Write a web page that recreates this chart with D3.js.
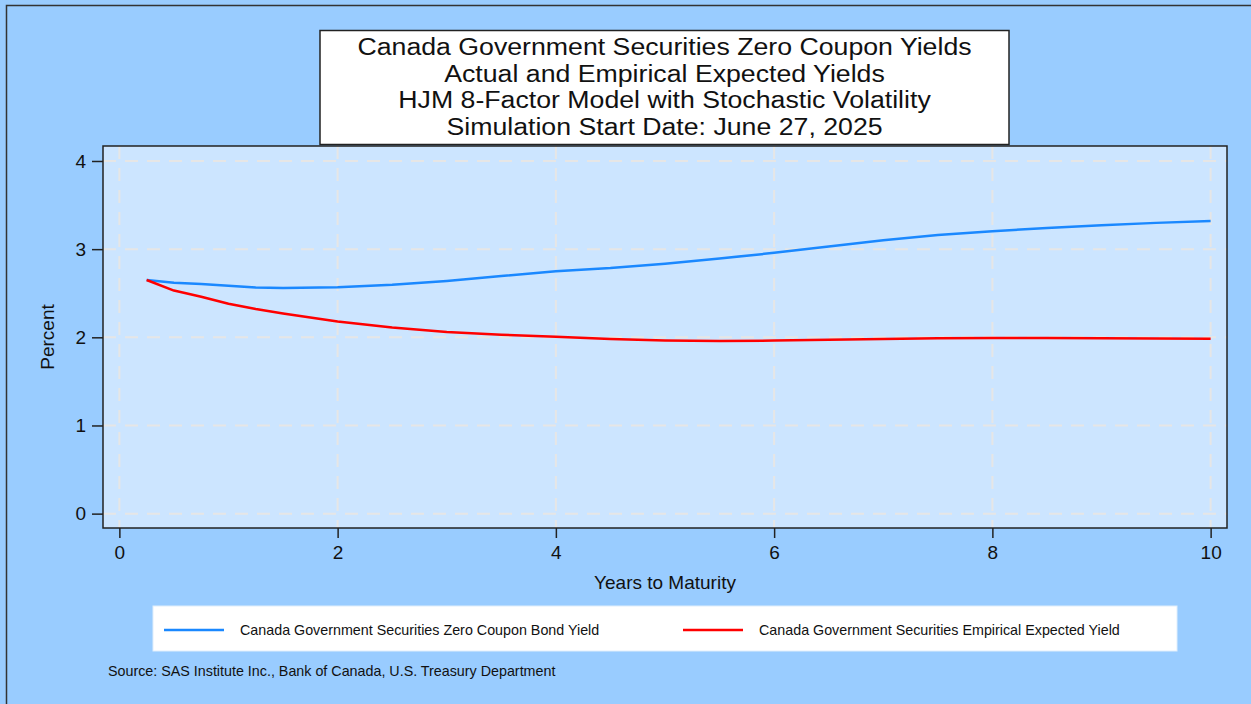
<!DOCTYPE html>
<html>
<head>
<meta charset="utf-8">
<script src="https://cdn.jsdelivr.net/npm/d3@7"></script>
<style>
  body { margin: 0; background: #99ccff; }
  svg { display: block; font-family: "Liberation Sans", Arial, sans-serif; }
</style>
</head>
<body>
<svg id="chart" width="1251" height="704"></svg>
<script>
// maturities in years
var maturities = [0.25, 0.5, 0.75, 1, 1.25, 1.5, 2, 2.5, 3, 3.5, 4, 4.5, 5, 5.5, 6, 6.5, 7, 7.5, 8, 8.5, 9, 9.5, 10];
// actual zero coupon bond yield (percent)
var zeroYield = [2.65, 2.62, 2.605, 2.585, 2.565, 2.558, 2.568, 2.595, 2.64, 2.695, 2.75, 2.785, 2.835, 2.895, 2.958, 3.03, 3.10, 3.16, 3.203, 3.24, 3.27, 3.298, 3.32];
// empirical expected yield (percent)
var expectedYield = [2.65, 2.53, 2.46, 2.38, 2.32, 2.27, 2.18, 2.11, 2.06, 2.03, 2.005, 1.98, 1.965, 1.958, 1.963, 1.972, 1.982, 1.988, 1.991, 1.992, 1.99, 1.986, 1.983];

var xTicks = [0, 2, 4, 6, 8, 10];
var yTicks = [0, 1, 2, 3, 4];

var titleLines = [
  "Canada Government Securities Zero Coupon Yields",
  "Actual and Empirical Expected Yields",
  "HJM 8-Factor Model with Stochastic Volatility",
  "Simulation Start Date: June 27, 2025"
];
var seriesNames = [
  "Canada Government Securities Zero Coupon Bond Yield",
  "Canada Government Securities Empirical Expected Yield"
];
var seriesColors = ["#1a88ff", "#ff0000"];
var sourceNote = "Source: SAS Institute Inc., Bank of Canada, U.S. Treasury Department";

var svg = d3.select("#chart");

// outer frame (left/top edges visible only)
svg.append("rect")
    .attr("x", 6.5).attr("y", 5.5)
    .attr("width", 1260).attr("height", 720)
    .attr("fill", "#99ccff")
    .attr("stroke", "#333")
    .attr("stroke-width", 1.5);

var plot = { left: 103, top: 146, right: 1227, bottom: 528 };

var x = d3.scaleLinear().domain([-0.15, 10.15]).range([plot.left, plot.right]);
var y = d3.scaleLinear().domain([-0.163, 4.17]).range([plot.bottom, plot.top]);

// plot background
svg.append("rect")
    .attr("x", plot.left).attr("y", plot.top)
    .attr("width", plot.right - plot.left).attr("height", plot.bottom - plot.top)
    .attr("fill", "#cce5ff");

// grid
var grid = svg.append("g").attr("stroke", "#e6e6e6").attr("stroke-width", 2).attr("stroke-dasharray", "13,9");
grid.selectAll(".gx").data(xTicks).enter().append("line")
    .attr("x1", function(d) { return x(d); }).attr("x2", function(d) { return x(d); })
    .attr("y1", plot.top).attr("y2", plot.bottom);
grid.selectAll(".gy").data(yTicks).enter().append("line")
    .attr("y1", function(d) { return y(d); }).attr("y2", function(d) { return y(d); })
    .attr("x1", plot.left).attr("x2", plot.right);

// axes
var xAxis = svg.append("g")
    .attr("transform", "translate(0," + plot.bottom + ")")
    .call(d3.axisBottom(x).tickValues(xTicks).tickFormat(d3.format("d"))
      .tickSize(10).tickPadding(8).tickSizeOuter(0));
var yAxis = svg.append("g")
    .attr("transform", "translate(" + plot.left + ",0)")
    .call(d3.axisLeft(y).tickValues(yTicks).tickFormat(d3.format("d"))
      .tickSize(11).tickPadding(6).tickSizeOuter(0));

[xAxis, yAxis].forEach(function(a) {
  a.select(".domain").remove();
  a.selectAll("line").attr("stroke", "#222").attr("stroke-width", 1.5);
  a.selectAll("text").attr("fill", "#111").style("font-size", "19px")
      .style("font-family", "'Liberation Sans', Arial, sans-serif");
});

// plot border on top of grid
svg.append("rect")
    .attr("x", plot.left).attr("y", plot.top)
    .attr("width", plot.right - plot.left).attr("height", plot.bottom - plot.top)
    .attr("fill", "none")
    .attr("stroke", "#222")
    .attr("stroke-width", 1.5);

// series
var line = d3.line()
    .x(function(d) { return x(d[0]); })
    .y(function(d) { return y(d[1]); });

[zeroYield, expectedYield].forEach(function(vals, i) {
  svg.append("path")
      .datum(d3.zip(maturities, vals))
      .attr("d", line)
      .attr("fill", "none")
      .attr("stroke", seriesColors[i])
      .attr("stroke-width", 2.5)
      .attr("stroke-linejoin", "round");
});

// axis titles
svg.append("text")
    .attr("x", (plot.left + plot.right) / 2).attr("y", 589)
    .attr("text-anchor", "middle")
    .style("font-size", "19px")
    .attr("fill", "#111")
    .text("Years to Maturity");

svg.append("text")
    .attr("transform", "translate(54," + ((plot.top + plot.bottom) / 2) + ") rotate(-90)")
    .attr("text-anchor", "middle")
    .style("font-size", "19px")
    .attr("fill", "#111")
    .text("Percent");

// title box
svg.append("rect")
    .attr("x", 320).attr("y", 30.5)
    .attr("width", 689).attr("height", 114)
    .attr("fill", "#fff")
    .attr("stroke", "#222")
    .attr("stroke-width", 1.5);

// title lines, slightly widened like the original renderer
svg.append("g")
    .attr("transform", "translate(664.5,0) scale(1.09,1)")
  .selectAll("text").data(titleLines).enter().append("text")
    .attr("x", 0)
    .attr("y", function(d, i) { return 55.5 + i * 26.5; })
    .attr("text-anchor", "middle")
    .style("font-size", "24.5px")
    .attr("fill", "#111")
    .text(function(d) { return d; });

// legend
svg.append("rect")
    .attr("x", 153).attr("y", 606)
    .attr("width", 1024).attr("height", 45)
    .attr("fill", "#fff")
    .attr("stroke", "#e0eefc")
    .attr("stroke-width", 1);

var legendX = [164, 683];
var leg = svg.append("g").selectAll("g").data(seriesNames).enter().append("g")
    .attr("transform", function(d, i) { return "translate(" + legendX[i] + ",630)"; });
leg.append("line")
    .attr("x1", 0).attr("x2", 60)
    .attr("stroke", function(d, i) { return seriesColors[i]; })
    .attr("stroke-width", 2.5);
leg.append("text")
    .attr("x", 76).attr("y", 5)
    .style("font-size", "14.3px")
    .attr("fill", "#111")
    .text(function(d) { return d; });

// source note
svg.append("text")
    .attr("x", 108).attr("y", 676)
    .style("font-size", "14.3px")
    .attr("fill", "#111")
    .text(sourceNote);
</script>
</body>
</html>
